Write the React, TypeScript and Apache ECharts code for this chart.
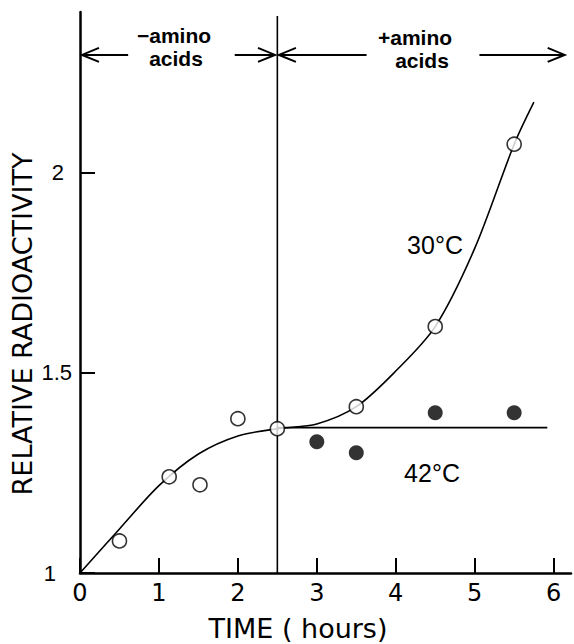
import React, { useEffect, useRef } from "react";
import * as echarts from "echarts";

// 30°C measured points (open circles)
const open30X = [0.5, 1.13, 1.52, 2.0, 2.5, 3.5, 4.5, 5.5];
const open30Y = [1.08, 1.24, 1.22, 1.385, 1.36, 1.415, 1.615, 2.07];
// 42°C measured points (filled circles)
const filled42X = [3.0, 3.5, 4.5, 5.5];
const filled42Y = [1.3275, 1.3, 1.4, 1.4];
// fitted curve for 30°C
const curve30X = [0, 0.5, 1.0, 1.5, 2.0, 2.5, 3.0, 3.5, 4.0, 4.5, 5.0, 5.5, 5.75];
const curve30Y = [1.0, 1.11, 1.218, 1.297, 1.342, 1.36, 1.372, 1.415, 1.504, 1.615, 1.81, 2.07, 2.175];
// fitted line for 42°C
const line42X = [2.5, 5.92];
const line42Y = [1.363, 1.363];
// divider at addition of amino acids
const dividerX = [2.5, 2.5];
const dividerY = [1.0, 2.39];
// arrows: [start, end, y, headSide(-1 left, 1 right)]
const arrowRows = [
  [0.025, 0.61, 2.293, -1],
  [1.96, 2.47, 2.293, 1],
  [2.52, 3.63, 2.293, -1],
  [5.06, 6.14, 2.293, 1],
];
const xTicks = [0, 1, 2, 3, 4, 5, 6];
const yTickLabels: Record<string, string> = { "1": "1", "1.5": "1.5", "2": "2" };

const zip = (xs: number[], ys: number[]) => xs.map((x, i) => [x, ys[i]]);

export default function App() {
  const ref = useRef<HTMLDivElement>(null);
  useEffect(() => {
    if (!ref.current) return;
    const chart = echarts.init(ref.current, null, { renderer: "svg" });
    const font = "DejaVu Sans";
    const tickFont = "Liberation Sans";
    chart.setOption({
      animation: false,
      backgroundColor: "#fff",
      grid: { left: 80, right: 3, top: 12, bottom: 71 },
      xAxis: {
        type: "value",
        min: 0,
        max: 6.22,
        interval: 1,
        axisLine: { lineStyle: { color: "#000", width: 2.5 } },
        axisTick: { inside: true, length: 15, lineStyle: { color: "#000", width: 2 } },
        splitLine: { show: false },
        axisLabel: {
          showMaxLabel: false,
          margin: 8,
          color: "#000",
          fontFamily: font,
          fontSize: 24,
          formatter: (v: number) => (xTicks.includes(v) ? String(v) : ""),
        },
      },
      yAxis: {
        type: "value",
        min: 1,
        max: 2.4,
        interval: 0.5,
        axisLine: { lineStyle: { color: "#000", width: 2.5 } },
        axisTick: { inside: true, length: 15, lineStyle: { color: "#000", width: 2 } },
        splitLine: { show: false },
        axisLabel: {
          showMaxLabel: false,
          margin: 8,
          color: "#000",
          fontFamily: tickFont,
          fontSize: 22,
          formatter: (v: number) => {
            const t = yTickLabels[String(v)] || "";
            if (v === 2) return "{b|" + t + "}";
            if (v === 1) return "{c|" + t + "}";
            return t;
          },
          rich: {
            b: { fontFamily: tickFont, fontSize: 22, color: "#000", padding: [0, 8, 0, 0] },
            c: { fontFamily: tickFont, fontSize: 22, color: "#000", padding: [0, 16, 0, 0] },
          },
        },
      },
      series: [
        {
          type: "line",
          data: zip(curve30X, curve30Y),
          smooth: 0.3,
          showSymbol: false,
          symbol: "none",
          lineStyle: { color: "#000", width: 1.6 },
          z: 2,
        },
        {
          type: "line",
          data: zip(line42X, line42Y),
          showSymbol: false,
          symbol: "none",
          lineStyle: { color: "#000", width: 1.8 },
          z: 2,
        },
        {
          type: "line",
          data: zip(dividerX, dividerY),
          showSymbol: false,
          symbol: "none",
          lineStyle: { color: "#000", width: 1.6 },
          z: 2,
        },
        {
          type: "scatter",
          data: zip(open30X, open30Y),
          symbol: "circle",
          symbolSize: 14,
          itemStyle: { color: "#fff", borderColor: "#000", borderWidth: 1.6 },
          z: 5,
        },
        {
          type: "scatter",
          data: zip(filled42X, filled42Y),
          symbol: "circle",
          symbolSize: 15,
          itemStyle: { color: "#000" },
          z: 5,
        },
        {
          type: "custom",
          clip: false,
          data: arrowRows,
          encode: { x: [0, 1], y: 2 },
          renderItem: (_p: any, api: any) => {
            const x1 = api.value(0), x2 = api.value(1), y = api.value(2), side = api.value(3);
            const p1 = api.coord([x1, y]);
            const p2 = api.coord([x2, y]);
            const head = side < 0 ? p1 : p2;
            const s = side < 0 ? 1 : -1;
            const st = { stroke: "#000", lineWidth: 2, fill: "none" };
            return {
              type: "group",
              children: [
                { type: "line", shape: { x1: p1[0], y1: p1[1], x2: p2[0], y2: p2[1] }, style: st },
                {
                  type: "polyline",
                  shape: {
                    points: [
                      [head[0] + s * 17, head[1] - 7],
                      [head[0], head[1]],
                      [head[0] + s * 17, head[1] + 7],
                    ],
                  },
                  style: st,
                },
              ],
            };
          },
        },
      ],
      graphic: [
        {
          type: "text",
          x: 22,
          y: 324,
          rotation: Math.PI / 2,
          style: {
            text: "RELATIVE RADIOACTIVITY",
            font: `27px "${font}"`,
            fill: "#000",
            align: "center",
            verticalAlign: "middle",
          },
        },
        {
          type: "text",
          x: 298,
          y: 628,
          style: {
            text: "TIME ( hours)",
            font: `27px "${font}"`,
            fill: "#000",
            align: "center",
            verticalAlign: "middle",
          },
        },
        {
          type: "text",
          x: 174,
          y: 35,
          style: { text: "−amino", font: `bold 21px "Liberation Sans"`, fill: "#000", align: "center", verticalAlign: "middle" },
        },
        {
          type: "text",
          x: 176,
          y: 58,
          style: { text: "acids", font: `bold 21px "Liberation Sans"`, fill: "#000", align: "center", verticalAlign: "middle" },
        },
        {
          type: "text",
          x: 415,
          y: 37,
          style: { text: "+amino", font: `bold 21px "Liberation Sans"`, fill: "#000", align: "center", verticalAlign: "middle" },
        },
        {
          type: "text",
          x: 422,
          y: 60,
          style: { text: "acids", font: `bold 21px "Liberation Sans"`, fill: "#000", align: "center", verticalAlign: "middle" },
        },
        {
          type: "text",
          x: 435,
          y: 245,
          style: { text: "30°C", font: `25px "Liberation Sans"`, fill: "#000", align: "center", verticalAlign: "middle" },
        },
        {
          type: "text",
          x: 432,
          y: 473,
          style: { text: "42°C", font: `25px "Liberation Sans"`, fill: "#000", align: "center", verticalAlign: "middle" },
        },
      ],
    });
    return () => chart.dispose();
  }, []);
  return (
    <div
      ref={ref}
      style={{ position: "fixed", left: 0, top: 0, width: 574, height: 644, background: "#fff" }}
    />
  );
}
